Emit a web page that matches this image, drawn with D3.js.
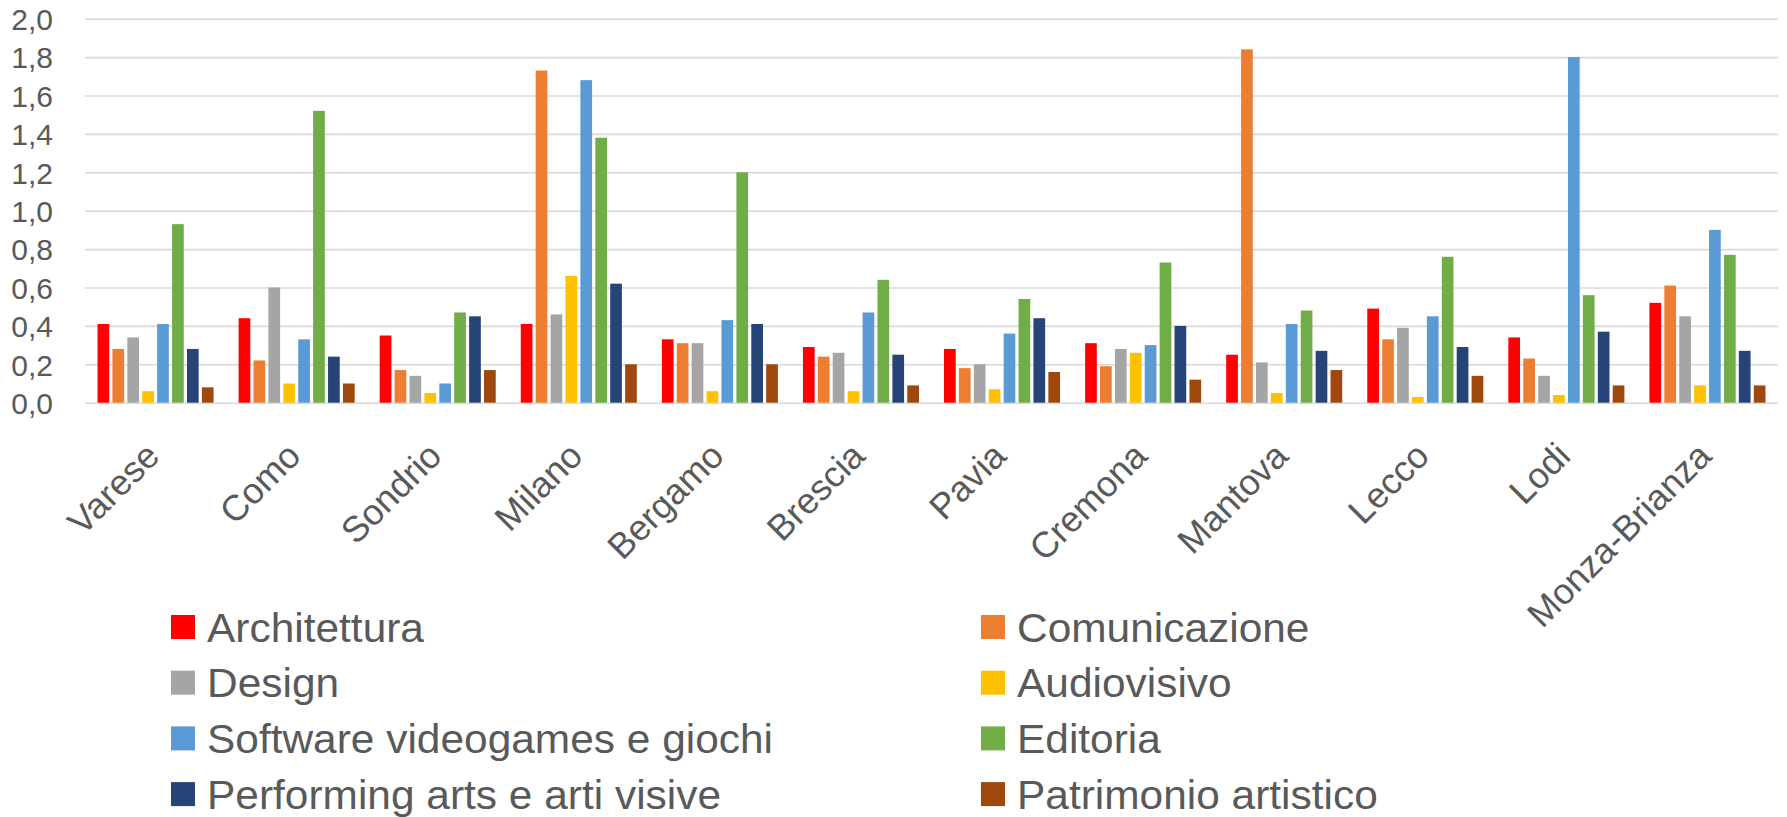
<!DOCTYPE html>
<html>
<head>
<meta charset="utf-8">
<script src="https://cdn.jsdelivr.net/npm/d3@7"></script>
<style>
  html, body { margin: 0; padding: 0; background: #fff; }
  svg { display: block; font-family: "Liberation Sans", Arial, sans-serif; }
  .tick-lbl { fill: #595959; font-size: 30px; }
  .cat-lbl { fill: #595959; font-size: 36px; }
  .leg-lbl { fill: #595959; font-size: 41px; }
</style>
</head>
<body>
<div id="chart"></div>
<script>
// province lombarde
var CATEGORIES = ["Varese", "Como", "Sondrio", "Milano", "Bergamo", "Brescia",
  "Pavia", "Cremona", "Mantova", "Lecco", "Lodi", "Monza-Brianza"];

var SERIES = ["Architettura", "Comunicazione", "Design", "Audiovisivo",
  "Software videogames e giochi", "Editoria", "Performing arts e arti visive", "Patrimonio artistico"];

var COLORS = ["#ff0000", "#ed7d31", "#a5a5a5", "#ffc000", "#5b9bd5", "#70ad47", "#264478", "#9e480e"];

// one array per series, in CATEGORIES order
var ARCHITETTURA  = [0.41, 0.44, 0.35, 0.41, 0.33, 0.29, 0.28, 0.31, 0.25, 0.49, 0.34, 0.52];
var COMUNICAZIONE = [0.28, 0.22, 0.17, 1.73, 0.31, 0.24, 0.18, 0.19, 1.84, 0.33, 0.23, 0.61];
var DESIGN        = [0.34, 0.60, 0.14, 0.46, 0.31, 0.26, 0.20, 0.28, 0.21, 0.39, 0.14, 0.45];
var AUDIOVISIVO   = [0.06, 0.10, 0.05, 0.66, 0.06, 0.06, 0.07, 0.26, 0.05, 0.03, 0.04, 0.09];
var SOFTWARE      = [0.41, 0.33, 0.10, 1.68, 0.43, 0.47, 0.36, 0.30, 0.41, 0.45, 1.80, 0.90];
var EDITORIA      = [0.93, 1.52, 0.47, 1.38, 1.20, 0.64, 0.54, 0.73, 0.48, 0.76, 0.56, 0.77];
var PERFORMING    = [0.28, 0.24, 0.45, 0.62, 0.41, 0.25, 0.44, 0.40, 0.27, 0.29, 0.37, 0.27];
var PATRIMONIO    = [0.08, 0.10, 0.17, 0.20, 0.20, 0.09, 0.16, 0.12, 0.17, 0.14, 0.09, 0.09];

var VALUES = [ARCHITETTURA, COMUNICAZIONE, DESIGN, AUDIOVISIVO, SOFTWARE, EDITORIA, PERFORMING, PATRIMONIO];

var Y_TICKS = [0, 0.2, 0.4, 0.6, 0.8, 1.0, 1.2, 1.4, 1.6, 1.8, 2.0];

var W = 1787, H = 817;
var plot = { left: 85, right: 1778, top: 18.7, bottom: 402.7 };

var svg = d3.select("#chart").append("svg").attr("width", W).attr("height", H);

var x0 = d3.scaleBand().domain(CATEGORIES).range([plot.left, plot.right]).padding(0);
var x1 = d3.scaleBand().domain(d3.range(SERIES.length)).range([0, x0.bandwidth()])
  .paddingInner(0.215).paddingOuter(0.84);
var y = d3.scaleLinear().domain([0, 2]).range([plot.bottom, plot.top]);

// gridlines + value labels
var yAxis = d3.axisLeft(y).tickValues(Y_TICKS)
  .tickFormat(function (d) { return d3.format(".1f")(d).replace(".", ","); })
  .tickSize(-(plot.right - plot.left)).tickPadding(32);
var gy = svg.append("g").attr("transform", "translate(" + plot.left + ",0)").call(yAxis);
gy.select(".domain").remove();
gy.selectAll(".tick line").attr("stroke", "#d9d9d9").attr("stroke-width", 1.6);
gy.selectAll(".tick text").attr("class", "tick-lbl").attr("dy", "0.36em").attr("font-size", null).attr("font-family", null);

// bars
var groups = svg.append("g").selectAll("g").data(CATEGORIES).join("g")
  .attr("transform", function (d) { return "translate(" + x0(d) + ",0)"; });
groups.selectAll("rect")
  .data(function (d, ci) { return VALUES.map(function (v, si) { return { s: si, v: v[ci] }; }); })
  .join("rect")
  .attr("x", function (d) { return x1(d.s); })
  .attr("width", x1.bandwidth())
  .attr("y", function (d) { return y(d.v); })
  .attr("height", function (d) { return y(0) - y(d.v); })
  .attr("fill", function (d) { return COLORS[d.s]; });

// category labels, rotated
svg.append("g").selectAll("text").data(CATEGORIES).join("text")
  .attr("class", "cat-lbl")
  .attr("text-anchor", "end")
  .attr("transform", function (d) {
    return "translate(" + (x0(d) + x0.bandwidth() / 2 + 6) + "," + 458 + ") rotate(-45)";
  })
  .text(function (d) { return d; });

// legend, two columns
var legX = [171, 981], legY0 = 627, legDy = 55.7;
var leg = svg.append("g").selectAll("g").data(SERIES).join("g")
  .attr("transform", function (d, i) {
    return "translate(" + legX[i % 2] + "," + (legY0 + Math.floor(i / 2) * legDy) + ")";
  });
leg.append("rect").attr("x", 0).attr("y", -12).attr("width", 24).attr("height", 24)
  .attr("fill", function (d, i) { return COLORS[i]; });
leg.append("text").attr("class", "leg-lbl")
  .attr("transform", "translate(36,14.5) scale(1.035,1)")
  .text(function (d) { return d; });
</script>
</body>
</html>
